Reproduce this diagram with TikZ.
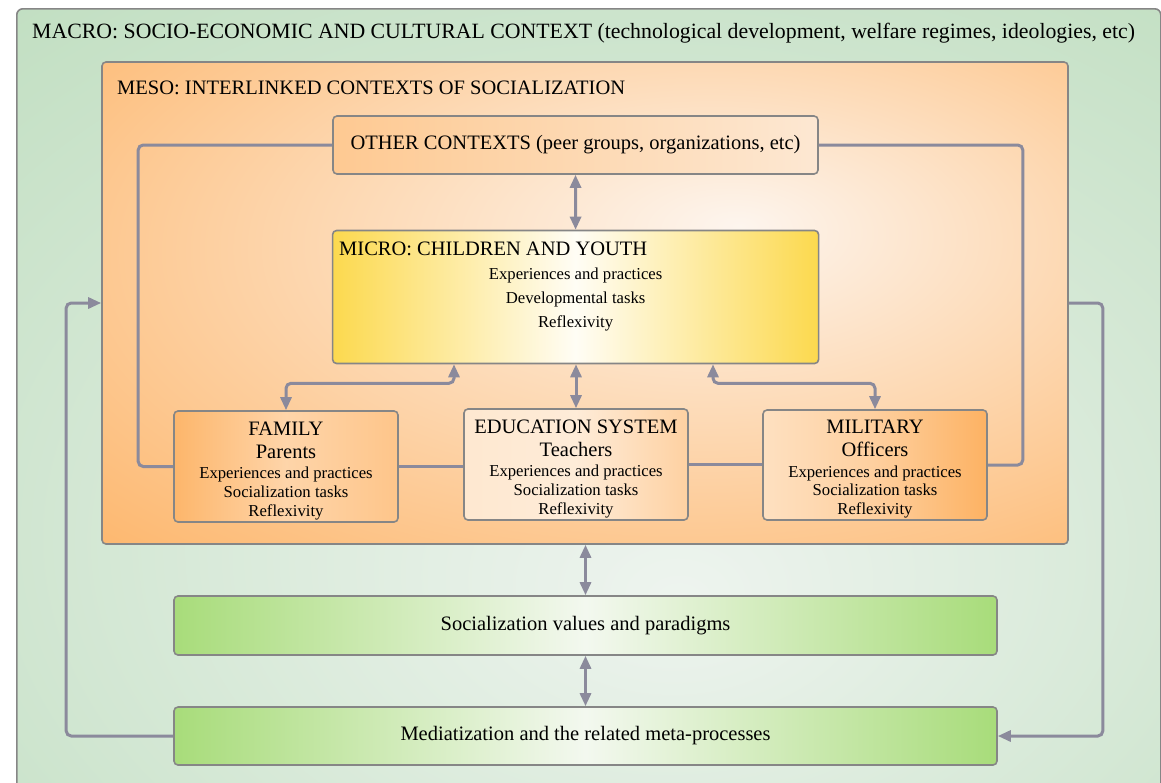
\documentclass[tikz,border=0pt]{standalone}
\usepackage{fontspec}
\setmainfont{Liberation Serif}
\usetikzlibrary{arrows.meta}
\definecolor{macroin}{HTML}{EEF4EF}
\definecolor{macroout}{HTML}{B3D8B3}
\definecolor{mesoin}{HTML}{FDF5EE}
\definecolor{mesoout}{HTML}{FDB263}
\definecolor{bordergray}{HTML}{868686}
\definecolor{conncol}{HTML}{8B8A9C}
\definecolor{yel}{HTML}{FCD94E}
\definecolor{yelin}{HTML}{FFFDF5}
\definecolor{grn}{HTML}{A8DC7A}
\definecolor{grnin}{HTML}{F3F8EF}
\pgfdeclareradialshading{macrosh}{\pgfpoint{4bp}{-12bp}}{color(0bp)=(macroin); color(55bp)=(macroout); color(80bp)=(macroout)}
\pgfdeclareradialshading{mesosh}{\pgfpoint{8bp}{8bp}}{color(0bp)=(mesoin); color(45bp)=(mesoout); color(80bp)=(mesoout)}
\newcommand{\tline}[1]{{\fontsize{20.5}{24}\selectfont #1}}
\begin{document}
\begin{tikzpicture}[x=1pt,y=-1pt,
  box/.style={draw=bordergray, line width=1.6pt, rounded corners=4pt, inner sep=0pt},
  conn/.style={draw=conncol, line width=3pt, rounded corners=5pt},
  bi/.style={conn, {Triangle[length=13pt,width=11pt]}-{Triangle[length=13pt,width=11pt]}},
  toarr/.style={conn, -{Triangle[length=13pt,width=11pt]}},
  ttl/.style={font=\fontsize{20.5}{24}\selectfont},
  body/.style={font=\fontsize{16.7}{18.7}\selectfont, align=center},
  small/.style={box, body, minimum width=224pt, minimum height=111pt}
]
\useasboundingbox (0,0) rectangle (1161,782);
\clip (0,0) rectangle (1161,782);
% MACRO
\node[box, draw=bordergray, rounded corners=6pt, shade, shading=macrosh, minimum width=1144pt, minimum height=800pt, anchor=north west] (macro) at (16,8) {};
\node[font=\fontsize{21.8}{26}\selectfont, anchor=base west, inner sep=0pt] (macrolbl) at (32,38) {MACRO: SOCIO-ECONOMIC AND CULTURAL CONTEXT (technological development, welfare regimes, ideologies, etc)};
% MESO
\node[box, shade, shading=mesosh, minimum width=966pt, minimum height=482pt] (meso) at (585,303) {};
\node[ttl, anchor=base west, inner sep=0pt] (mesolbl) at (117,94) {MESO: INTERLINKED CONTEXTS OF SOCIALIZATION};
% OTHER
\node[box, ttl, left color=mesoout!70!white, right color=mesoin!80!mesoout, minimum width=485pt, minimum height=58pt] (other) at (575.5,145) {OTHER CONTEXTS (peer groups, organizations, etc)};
% MICRO
\node[box, font=\fontsize{16.7}{24}\selectfont, align=center, left color=yel, right color=yel, middle color=yelin, minimum width=486pt, minimum height=133pt] (micro) at (575.6,297) {\rule{0pt}{17pt}Experiences and practices\\Developmental tasks\\Reflexivity};
\node[ttl, anchor=base west, inner sep=0pt] (microlbl) at (339,255.5) {MICRO: CHILDREN AND YOUTH};
% three contexts
\node[small, left color=mesoout!95!white, right color=mesoout!75!white, middle color=mesoout!55!white] (fam) at (286,466.5)
  {\tline{\rule{0pt}{22pt}FAMILY}\\[4pt]\tline{Parents}\\[2pt]Experiences and practices\\Socialization tasks\\Reflexivity};
\node[small, left color=mesoout!30!white, right color=mesoout!60!white, middle color=mesoout!25!white] (edu) at (576,464.5)
  {\tline{\rule{0pt}{22pt}EDUCATION SYSTEM}\\[4pt]\tline{Teachers}\\[2pt]Experiences and practices\\Socialization tasks\\Reflexivity};
\node[small, left color=mesoout!40!white, right color=mesoout, middle color=mesoout!62!white, minimum height=110pt] (mil) at (875,465)
  {\tline{\rule{0pt}{22pt}MILITARY}\\[4pt]\tline{Officers}\\[2pt]Experiences and practices\\Socialization tasks\\Reflexivity};
% green boxes
\node[box, ttl, left color=grn, right color=grn, middle color=grnin, minimum width=823pt, minimum height=59pt] (soc) at (585.5,625.5) {Socialization values and paradigms};
\node[box, ttl, left color=grn, right color=grn, middle color=grnin, minimum width=823pt, minimum height=58pt] (med) at (585.5,736) {Mediatization and the related meta-processes};
% connectors
\draw[conn] (other.west) -- ++(-194,0) |- (fam.west);
\draw[conn] (other.east) -- ++(204,0) |- (mil.east);
\draw[conn] (fam.east) -- (fam.east -| edu.west);
\draw[conn] (edu.east) -- (edu.east -| mil.west);
\draw[bi] (other.south) -- (micro.north);
\draw[bi] ([xshift=-121.6pt]micro.south) -- ++(0,19) -| (fam.north);
\draw[bi] (edu.north |- micro.south) -- (edu.north);
\draw[bi] ([xshift=137.4pt]micro.south) -- ++(0,19) -| (mil.north);
\draw[bi] (soc.north |- meso.south) -- (soc.north);
\draw[bi] (soc.south) -- (med.north);
\draw[toarr] (med.west) -- ++(-107,0) |- (meso.west);
\draw[toarr] (meso.east) -- ++(34,0) |- (med.east);
\end{tikzpicture}
\end{document}
